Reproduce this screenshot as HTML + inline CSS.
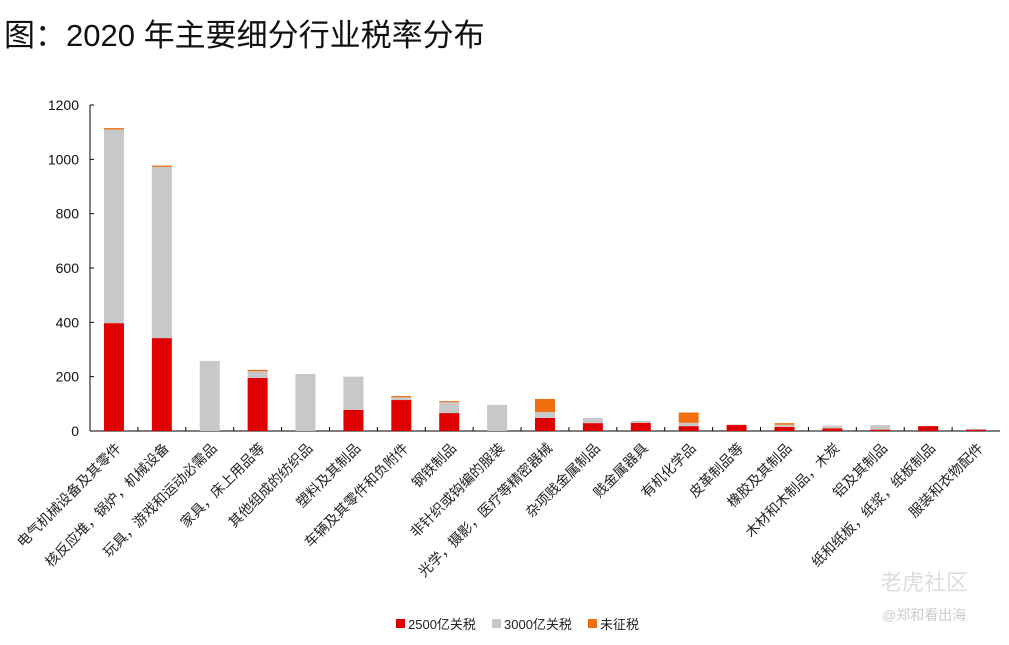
<!DOCTYPE html>
<html><head><meta charset="utf-8"><style>
body{margin:0;background:#fff;width:1009px;height:640px;overflow:hidden;font-family:"Liberation Sans","Noto Sans CJK SC",sans-serif}
</style></head><body>
<svg id="chart" width="1009" height="640" xmlns="http://www.w3.org/2000/svg" font-family="Liberation Sans, Noto Sans CJK SC, sans-serif">
<text x="4" y="46" font-size="31" fill="#111">图：2020 年主要细分行业税率分布</text>
<g id="axes"></g><g id="bars"></g><g id="labels"></g>
<g font-size="13" fill="#222">
<rect x="396" y="619" width="9" height="9" fill="#e00000"/><text x="408" y="629">2500亿关税</text>
<rect x="492" y="619" width="9" height="9" fill="#c8c8c8"/><text x="504" y="629">3000亿关税</text>
<rect x="588" y="619" width="9" height="9" fill="#f07010"/><text x="600" y="629">未征税</text>
</g>
<text x="880" y="590" font-size="22" fill="#ddd">老虎社区</text>
<text x="882" y="620" font-size="14" fill="#ccc">@郑和看出海</text>
</svg>
<script>
const categories=["电气机械设备及其零件","核反应堆，锅炉，机械设备","玩具，游戏和运动必需品","家具，床上用品等","其他组成的纺织品","塑料及其制品","车辆及其零件和负附件","钢铁制品","非针织或钩编的服装","光学，摄影，医疗等精密器械","杂项贱金属制品","贱金属器具","有机化学品","皮革制品等","橡胶及其制品","木材和木制品，木炭","铝及其制品","纸和纸板，纸浆，纸板制品","服装和衣物配件"];
const tariff2500=[397,342,0,195,0,78,114,66,0,48,29,30,18,22,15,10,5,18,5];
const tariff3000=[713,630,258,25,210,122,10,40,96,22,19,7,12,2,8,10,17,0,3];
const untaxed=[5,5,0,5,0,0,5,4,0,48,0,0,38,0,6,0,0,0,0];
const yTicks=[0,200,400,600,800,1000,1200];
const NS="http://www.w3.org/2000/svg";
const x0=90,x1=1000,yb=431,yt=105,ymax=1200;
const step=(x1-x0)/categories.length;
const y=v=>yb-(v/ymax)*(yb-yt);
const xc=i=>x0+step*(i+0.5);
function mk(t,a,p){const e=document.createElementNS(NS,t);for(const k in a)e.setAttribute(k,a[k]);p.appendChild(e);return e;}
const ax=document.getElementById('axes');
let l=mk('line',{x1:x0,y1:yt,x2:x0,y2:yb,stroke:'#000'},ax);


l=mk('line',{x1:x0,y1:yb,x2:x1,y2:yb,stroke:'#000'},ax);


yTicks.forEach(v=>{
 mk('line',{x1:x0,y1:y(v),x2:x0+4,y2:y(v),stroke:'#000'},ax);
 const t=mk('text',{x:x0-11,y:y(v)+5,'text-anchor':'end','font-size':14,fill:'#111'},ax);
 t.textContent=v;
 
 
});
for(let i=1;i<categories.length;i++)mk('line',{x1:x0+step*i,y1:yb,x2:x0+step*i,y2:yb-4,stroke:'#000'},ax);
const bg=document.getElementById('bars'),lg=document.getElementById('labels');
const bw=20;
categories.forEach((c,i)=>{
 let base=0;
 [[tariff2500,'#e00000','red'],[tariff3000,'#c8c8c8','gray'],[untaxed,'#f07010','orange']].forEach(([arr,col,n])=>{
  const v=arr[i];if(v<=0)return;
  const r=mk('rect',{x:xc(i)-bw/2,y:y(base+v),width:bw,height:y(base)-y(base+v),fill:col},bg);
  
  
  base+=v;
 });
 const t=mk('text',{x:xc(i)+8,y:449,'text-anchor':'end','font-size':14,fill:'#222',transform:`rotate(-45 ${xc(i)+8} 449)`},lg);
 t.textContent=c;
 
 
});
</script>
</body></html>
